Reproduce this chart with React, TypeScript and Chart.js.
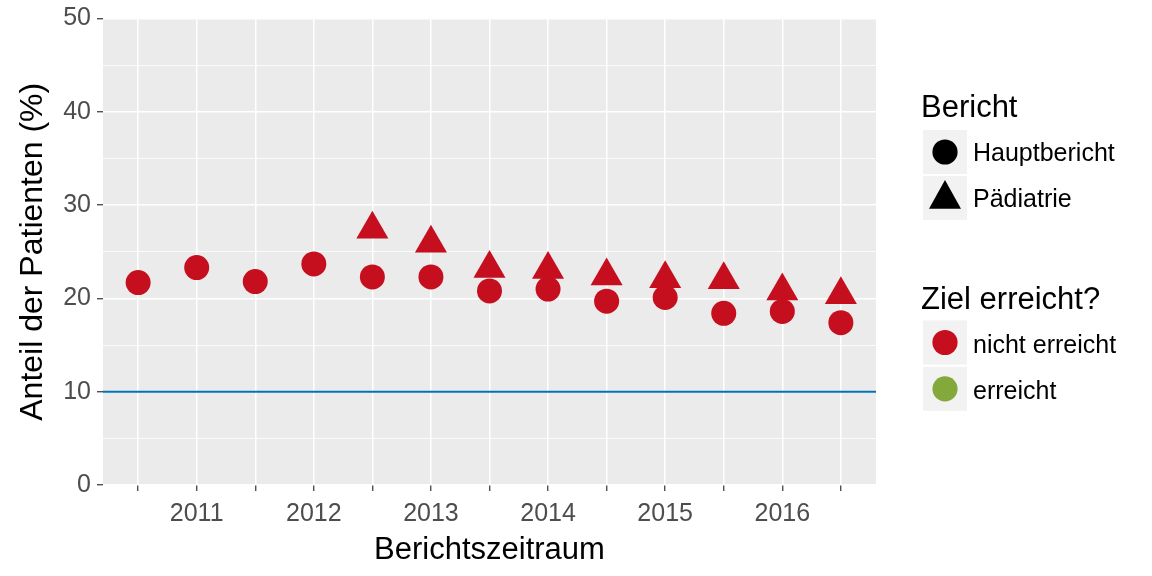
import React, { useEffect, useRef } from "react";
import { Chart, registerables } from "chart.js";

Chart.register(...registerables);

// ---- data ----
const periods = [
  "2010-2", "2011", "2011-2", "2012", "2012-2", "2013", "2013-2",
  "2014", "2014-2", "2015", "2015-2", "2016", "2016-2",
];
const xTickLabels = ["", "2011", "", "2012", "", "2013", "", "2014", "", "2015", "", "2016", ""];
const hauptbericht = [21.7, 23.3, 21.8, 23.7, 22.3, 22.3, 20.8, 21.0, 19.7, 20.1, 18.4, 18.6, 17.4];
const paediatrie = [null, null, null, null, 27.4, 25.9, 23.2, 23.1, 22.4, 22.1, 22.0, 20.8, 20.4];
const zielwert = 10;
const yTicks = [0, 5, 10, 15, 20, 25, 30, 35, 40, 45, 50];
const berichtLabels = ["Hauptbericht", "Pädiatrie"];
const zielLabels = ["nicht erreicht", "erreicht"];

// ---- style ----
const RED = "#C50F1F";
const GREEN = "#84A93B";
const BLUE = "#0072BC";
const FONT = "'Liberation Sans', Arial, sans-serif";
const X_MIN = -0.6;
const X_MAX = periods.length - 1 + 0.6;

const pointColor = (v: number | null) => (v !== null && v <= zielwert ? GREEN : RED);

const panelBg = {
  id: "panelBg",
  beforeDraw(chart: any) {
    const { ctx, chartArea } = chart;
    ctx.save();
    ctx.fillStyle = "#EBEBEB";
    ctx.fillRect(chartArea.left, chartArea.top, chartArea.right - chartArea.left, chartArea.bottom - chartArea.top);
    ctx.restore();
  },
};

const ggLegend = {
  id: "ggLegend",
  afterDraw(chart: any) {
    const ctx = chart.ctx as CanvasRenderingContext2D;
    ctx.save();
    const kx = 923;
    const ks = 44;
    const cx = kx + ks / 2;
    ctx.textAlign = "left";
    ctx.textBaseline = "alphabetic";

    // Bericht
    ctx.fillStyle = "#000";
    ctx.font = `31px ${FONT}`;
    ctx.fillText("Bericht", 921, 117);
    const bTops = [130, 176];
    bTops.forEach((t, i) => {
      ctx.fillStyle = "#F2F2F2";
      ctx.fillRect(kx, t, ks, ks);
      ctx.fillStyle = "#000";
      if (i === 0) {
        ctx.beginPath();
        ctx.arc(cx, t + ks / 2, 12.6, 0, Math.PI * 2);
        ctx.fill();
      } else {
        ctx.beginPath();
        ctx.moveTo(cx, t + 4);
        ctx.lineTo(cx + 16, t + 32.7);
        ctx.lineTo(cx - 16, t + 32.7);
        ctx.closePath();
        ctx.fill();
      }
      ctx.font = `25px ${FONT}`;
      ctx.fillText(berichtLabels[i], 973, t + 31);
    });

    // Ziel erreicht?
    ctx.font = `31px ${FONT}`;
    ctx.fillText("Ziel erreicht?", 921, 309);
    const zTops = [320.5, 366.8];
    const zCols = [RED, GREEN];
    zTops.forEach((t, i) => {
      ctx.fillStyle = "#F2F2F2";
      ctx.fillRect(kx, t, ks, ks);
      ctx.fillStyle = zCols[i];
      ctx.beginPath();
      ctx.arc(cx, t + ks / 2, 12.6, 0, Math.PI * 2);
      ctx.fill();
      ctx.fillStyle = "#000";
      ctx.font = `25px ${FONT}`;
      ctx.fillText(zielLabels[i], 973, t + 32);
    });
    ctx.restore();
  },
};

export default function App() {
  const ref = useRef<HTMLCanvasElement>(null);

  useEffect(() => {
    const canvas = ref.current;
    if (!canvas) return;
    const chart = new Chart(canvas, {
      type: "scatter",
      data: {
        datasets: [
          {
            label: "Hauptbericht",
            data: hauptbericht.map((v, i) => ({ x: i, y: v })),
            pointStyle: "circle",
            pointRadius: 12.5,
            pointBorderWidth: 0,
            pointBackgroundColor: hauptbericht.map(pointColor),
            borderColor: "rgba(0,0,0,0)",
            order: 1,
          },
          {
            label: "Pädiatrie",
            data: paediatrie
              .map((v, i) => (v === null ? null : { x: i, y: v }))
              .filter((p) => p !== null) as any,
            pointStyle: "triangle",
            pointRadius: 18.5,
            pointBorderWidth: 0,
            pointBackgroundColor: paediatrie.filter((v) => v !== null).map(pointColor),
            borderColor: "rgba(0,0,0,0)",
            order: 0,
          },
          {
            type: "line",
            label: "Ziel",
            data: [
              { x: X_MIN, y: zielwert },
              { x: X_MAX, y: zielwert },
            ],
            borderColor: BLUE,
            borderWidth: 2,
            pointRadius: 0,
            fill: false,
            order: 2,
          } as any,
        ],
      },
      options: {
        responsive: false,
        devicePixelRatio: 1,
        animation: false,
        events: [],
        layout: { padding: { left: 0, right: 276, top: 13, bottom: 0 } },
        plugins: {
          legend: { display: false },
          tooltip: { enabled: false },
        },
        scales: {
          x: {
            type: "linear",
            min: X_MIN,
            max: X_MAX,
            afterBuildTicks: (scale: any) => {
              scale.ticks = periods.map((_, i) => ({ value: i }));
            },
            afterFit: (scale: any) => {
              scale.height = 91;
              scale.paddingLeft = 0;
              scale.paddingRight = 0;
            },
            border: { display: false },
            grid: {
              color: "#FFFFFF",
              lineWidth: 1.5,
              tickColor: "#333333",
              tickLength: 6,
              tickWidth: 1.2,
            },
            ticks: {
              autoSkip: false,
              maxRotation: 0,
              padding: 8,
              color: "#4D4D4D",
              font: { family: FONT, size: 25 },
              callback: (v: any) => xTickLabels[Math.round(Number(v))] ?? "",
            },
            title: {
              display: true,
              text: "Berichtszeitraum",
              color: "#000",
              font: { family: FONT, size: 31 },
              padding: { top: 0, bottom: 6.5 },
            },
          },
          y: {
            type: "linear",
            min: 0,
            max: 50,
            afterBuildTicks: (scale: any) => {
              scale.ticks = yTicks.map((v) => ({ value: v }));
            },
            afterFit: (scale: any) => {
              scale.width = 103;
              scale.paddingTop = 0;
              scale.paddingBottom = 0;
            },
            border: { display: false },
            grid: {
              color: "#FFFFFF",
              lineWidth: (c: any) => (c.tick && c.tick.value % 10 === 0 ? 1.5 : 0.8),
              tickColor: (c: any) => (c.tick && c.tick.value % 10 === 0 ? "#333333" : "rgba(0,0,0,0)"),
              tickLength: 6,
              tickWidth: 1.2,
            },
            ticks: {
              autoSkip: false,
              padding: 6,
              color: "#4D4D4D",
              font: { family: FONT, size: 25 },
              callback: (v: any) => (Number(v) % 10 === 0 ? String(v) : ""),
            },
            title: {
              display: true,
              text: "Anteil der Patienten (%)",
              color: "#000",
              font: { family: FONT, size: 32 },
              padding: { top: 14, bottom: 0 },
            },
          },
        },
      },
      plugins: [panelBg, ggLegend],
    });
    return () => chart.destroy();
  }, []);

  return (
    <div style={{ position: "absolute", left: 0, top: 0, width: 1152, height: 576, background: "#FFFFFF" }}>
      <canvas ref={ref} width={1152} height={576} style={{ display: "block", width: 1152, height: 576 }} />
    </div>
  );
}
